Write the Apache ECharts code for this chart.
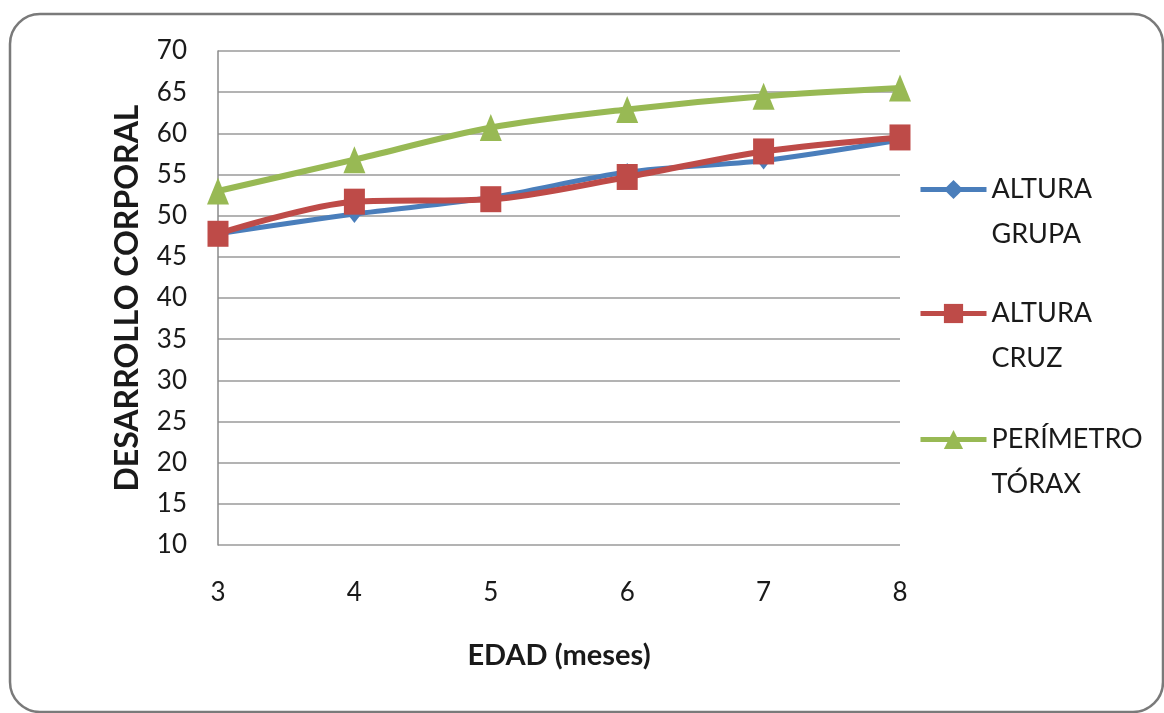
<!DOCTYPE html>
<html>
<head>
<meta charset="utf-8">
<script src="https://cdn.jsdelivr.net/npm/echarts@6/dist/echarts.min.js"></script>
<style>
html,body{margin:0;padding:0;background:#fff;}
#chart{width:1164px;height:713px;}
</style>
</head>
<body>
<div id="chart"></div>
<script>
const categories = ['3', '4', '5', '6', '7', '8'];
const alturaGrupa = [47.8, 50.2, 52.2, 55.3, 56.7, 59.2];
const alturaCruz = [47.8, 51.7, 52.0, 54.7, 57.8, 59.5];
const perimetroTorax = [53.0, 56.8, 60.7, 62.9, 64.5, 65.5];
const seriesNames = ['ALTURA GRUPA', 'ALTURA CRUZ', 'PERÍMETRO TÓRAX'];
const yMin = 10, yMax = 70, yStep = 5;
const xTitle = 'EDAD (meses)';
const yTitle = 'DESARROLLO CORPORAL';

const FONT = 'Lato';
const chart = echarts.init(document.getElementById('chart'), null, {renderer: 'canvas'});

function legendFor(name, top) {
  return {
    data: [name],
    orient: 'vertical',
    left: 918,
    top: top,
    padding: 0,
    itemWidth: 66,
    itemHeight: 24,
    itemGap: 0,
    lineStyle: {width: 5},
    textStyle: {fontFamily: FONT, fontSize: 27, color: '#1a1a1a', lineHeight: 45},
    formatter: n => ' \n' + n.replace(' ', '\n'),
    selectedMode: false
  };
}

const option = {
  backgroundColor: '#ffffff',
  animation: false,
  graphic: [{
    type: 'rect',
    shape: {x: 10, y: 14, width: 1153, height: 698, r: 30},
    style: {fill: 'none', stroke: '#7a7a7a', lineWidth: 2.5},
    z: -1
  }],
  grid: {left: 218, right: 264, top: 51, bottom: 168, containLabel: false},
  legend: [
    legendFor(seriesNames[0], 122),
    legendFor(seriesNames[1], 246),
    legendFor(seriesNames[2], 372)
  ],
  xAxis: {
    type: 'category',
    data: categories,
    boundaryGap: false,
    name: xTitle,
    nameLocation: 'middle',
    nameGap: 96,
    nameTextStyle: {fontFamily: FONT, fontSize: 29, fontWeight: 'bold', color: '#1a1a1a'},
    axisLine: {show: false},
    axisTick: {show: false},
    axisLabel: {fontFamily: FONT, fontSize: 26, color: '#1a1a1a', margin: 35},
    splitLine: {show: false}
  },
  yAxis: {
    type: 'value',
    min: yMin, max: yMax, interval: yStep,
    name: yTitle,
    nameLocation: 'middle',
    nameGap: 74,
    nameRotate: 90,
    nameTextStyle: {fontFamily: FONT, fontSize: 32, fontWeight: 'bold', color: '#1a1a1a'},
    axisLine: {show: true, lineStyle: {color: '#8a8a8a', width: 1.5}},
    axisTick: {show: false},
    axisLabel: {fontFamily: FONT, fontSize: 26, color: '#1a1a1a', margin: 31},
    splitLine: {show: true, lineStyle: {color: '#9a9a9a', width: 1.5}}
  },
  series: [
    {
      name: seriesNames[0], type: 'line', data: alturaGrupa, smooth: 0.3,
      symbol: 'diamond', symbolSize: [14, 18],
      lineStyle: {color: '#4A7EBB', width: 5},
      itemStyle: {color: '#4A7EBB'}
    },
    {
      name: seriesNames[1], type: 'line', data: alturaCruz, smooth: 0.3,
      symbol: 'rect', symbolSize: [21, 26],
      lineStyle: {color: '#BE4B48', width: 6},
      itemStyle: {color: '#BE4B48'}
    },
    {
      name: seriesNames[2], type: 'line', data: perimetroTorax, smooth: 0.3,
      symbol: 'triangle', symbolSize: [22, 27],
      lineStyle: {color: '#98B954', width: 6},
      itemStyle: {color: '#98B954'}
    }
  ]
};
chart.setOption(option);
</script>
</body>
</html>
